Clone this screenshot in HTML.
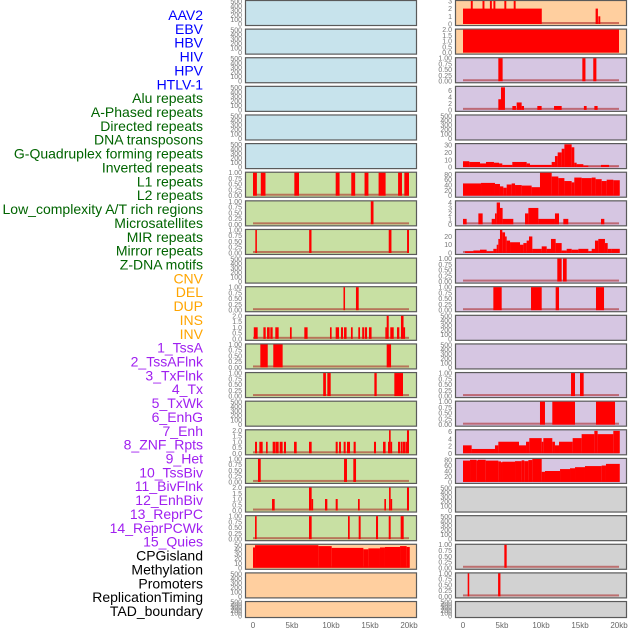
<!DOCTYPE html>
<html><head><meta charset="utf-8"><style>
html,body{margin:0;padding:0;background:#fff;width:630px;height:630px;overflow:hidden}
svg{display:block;font-family:"Liberation Sans",sans-serif}
</style></head><body>
<svg id="chart" width="630" height="630" viewBox="0 0 630 630"></svg>
<script>
// ---- data (kb positions, values) ----
const trackLabels = ["AAV2","EBV","HBV","HIV","HPV","HTLV-1","Alu repeats","A-Phased repeats","Directed repeats","DNA transposons","G-Quadruplex forming repeats","Inverted repeats","L1 repeats","L2 repeats","Low_complexity A/T rich regions","Microsatellites","MIR repeats","Mirror repeats","Z-DNA motifs","CNV","DEL","DUP","INS","INV","1_TssA","2_TssAFlnk","3_TxFlnk","4_Tx","5_TxWk","6_EnhG","7_Enh","8_ZNF_Rpts","9_Het","10_TssBiv","11_BivFlnk","12_EnhBiv","13_ReprPC","14_ReprPCWk","15_Quies","CPGisland","Methylation","Promoters","ReplicationTiming","TAD_boundary"];
const labelGroups = ["virus","virus","virus","virus","virus","virus","rep","rep","rep","rep","rep","rep","rep","rep","rep","rep","rep","rep","rep","sv","sv","sv","sv","sv","hmm","hmm","hmm","hmm","hmm","hmm","hmm","hmm","hmm","hmm","hmm","hmm","hmm","hmm","hmm","oth","oth","oth","oth","oth"];

const ticksEmpty = [0,100,200,300,400,500];
const ticksOne = [0,0.25,0.5,0.75,1];
const ticksTwo = [0,0.5,1,1.5,2];

const barsL7 = [[0,0.5,1],[1.0,1.6,1],[5.3,5.9,1],[10.6,11.1,1],[12.6,13.1,1],[14.3,14.8,1],[16.1,17.0,1],[18.6,19.1,1],[19.4,20.0,1]];
const barsL8 = [[15.1,15.45,1]];
const barsL9 = [[0.3,0.5,1],[7.2,7.5,1],[17.4,17.75,1],[19.75,20.0,1]];
const barsL11 = [[11.6,11.8,1],[13.2,13.55,1]];
const barsL12 = [[0.1,0.6,1],[1.33,1.63,1],[1.8,2.14,1],[2.22,2.52,1],[2.86,3.29,1],[4.74,4.96,1],[6.58,7.0,1],[9.87,10.08,1],[10.6,11.03,1],[11.28,11.54,1],[11.67,12.0,1],[12.56,12.78,1],[13.5,13.72,1],[14.0,14.27,1],[14.36,14.62,1],[14.87,15.2,1],[16.97,17.14,1],[17.14,17.4,2],[17.6,18.04,1],[18.46,18.76,1],[18.97,19.3,2],[19.3,19.5,1]];
const barsL13 = [[0.94,1.89,1],[2.6,3.8,1],[17.14,17.7,1]];
const barsL14 = [[9.0,9.35,1],[9.53,9.96,1],[15.56,15.86,1],[18.12,19.23,1]];
const barsL16 = [[0.26,0.51,1],[0.81,1.24,1],[1.67,1.88,1],[2.52,2.82,1],[2.86,3.29,1],[3.42,3.8,1],[3.97,4.23,1],[5.26,5.6,1],[7.18,7.52,1],[10.6,10.86,1],[11.03,11.28,1],[11.62,11.88,1],[12.05,12.44,1],[12.9,13.17,1],[15.51,15.77,1],[16.67,17.0,1],[17.31,17.44,1],[17.44,17.65,2],[17.65,17.82,1],[18.59,18.85,1],[18.93,19.15,1],[19.19,19.49,1],[19.53,19.74,1],[19.74,20.0,2]];
const barsL17 = [[0.64,0.99,1],[11.67,12.05,1],[12.86,13.21,1]];
const barsL18 = [[2.44,2.78,1],[7.18,7.52,2],[7.52,7.65,1],[9.23,9.53,1],[10.6,10.86,1],[13.46,13.68,1],[16.84,17.05,1],[17.44,17.65,2],[17.65,17.78,1],[19.74,20.0,2]];
const barsL19 = [[0.26,0.47,1],[7.18,7.52,1],[12.18,12.4,1],[13.55,13.8,1],[15.77,16.03,1],[17.4,17.65,1],[18.93,19.32,1]];
const barsCNV = [[0,0.26,45],[0.26,8.38,50],[8.38,10.09,48],[10.09,14.15,44],[14.15,14.79,41],[14.79,16.28,43],[16.28,16.92,45],[16.92,18.85,46],[18.85,19.7,48],[19.7,20.1,46]];

const barsINS = [[0,10.1,2],[1.0,1.25,3],[2.5,2.75,3],[3.45,3.7,3],[3.9,4.15,3],[5.3,5.55,3],[6.5,6.75,3],[17.0,17.3,2],[17.35,17.6,1]];
const barsINV = [[0,20,2]];
const barsTssA = [[4.53,5.08,1],[15.3,15.7,1],[16.7,17.1,1]];
const barsTssAFlnk = [[4.53,4.87,3.3],[4.87,5.38,7],[6.33,6.79,1.2],[6.88,7.52,2.3],[7.52,7.82,1.2],[9.53,10.08,1.2],[11.67,12.65,1.2],[15.5,15.85,1.2],[16.84,17.26,1.2]];
const barsTx = [[0,0.81,8],[0.81,2.18,7],[2.18,2.95,5],[2.95,3.97,7],[3.97,4.62,6],[4.62,5.04,5],[5.04,6.32,3],[6.32,8.16,7],[8.16,8.59,5],[8.59,9.87,3],[9.87,11.37,3],[11.37,11.79,7],[11.79,12.14,15],[12.14,12.65,20],[12.65,13.0,25],[13.0,13.93,31],[13.93,14.27,27],[14.27,14.57,6],[14.57,15.43,4],[15.43,16.07,2],[16.07,17.69,0.4],[17.69,18.72,3],[18.72,19.91,0.3]];
const barsTxWk = [[0,2.31,46],[2.31,4.1,48],[4.1,4.74,44],[4.74,5.17,35],[5.17,5.6,30],[5.6,6.24,42],[6.24,6.67,46],[6.67,7.52,40],[7.52,8.8,38],[8.8,9.87,32],[9.87,11.37,86],[11.37,12.22,72],[12.22,13.0,66],[13.0,13.93,55],[13.93,14.27,50],[14.27,15.21,68],[15.21,16.5,66],[16.5,17.0,68],[17.0,17.78,62],[17.78,18.42,55],[18.42,19.27,60],[19.27,20.1,58]];
const barsEnhG = [[0,0.47,1],[1.97,2.52,2],[3.68,4.1,1],[4.1,4.32,2],[4.32,4.74,4],[4.74,5.08,3],[5.08,6.45,1],[7.95,8.38,2],[8.38,9.66,3],[9.66,11.79,1],[11.79,12.31,2],[12.86,13.5,1],[17.69,18.12,1]];
const barsEnh = [[0.26,1.33,2],[1.33,2.18,3],[2.18,3.03,4],[3.03,3.89,2],[3.89,4.32,5],[4.32,4.53,10],[4.53,4.74,17],[4.74,5.04,28],[5.04,5.39,25],[5.39,5.6,20],[5.6,6.03,15],[6.03,7.31,13],[7.31,7.74,10],[7.74,8.16,12],[8.16,8.46,15],[8.46,8.89,20],[8.89,10.09,5],[10.09,10.73,8],[10.73,11.28,5],[11.28,11.88,17],[11.88,12.65,12],[12.65,13.29,3],[13.29,13.93,5],[13.93,14.79,4],[14.79,16.07,5],[16.07,16.5,2],[16.5,16.92,5],[16.92,17.35,15],[17.35,18.2,17],[18.2,18.55,12],[18.55,19.06,5],[19.06,20.1,5]];
const barsZNF = [[12.09,12.65,1],[12.82,13.29,1]];
const barsHet = [[3.89,4.96,1],[8.72,10.09,1],[11.88,12.31,1],[17.05,18.08,1]];
const barsEnhBiv = [[13.85,14.36,1],[15.0,15.47,1]];
const barsReprPC = [[9.87,10.51,1],[11.45,14.36,1],[17.05,19.49,1]];
const barsReprPCWk = [[0,1.11,2.2],[1.11,4.1,1.2],[4.1,4.53,2.2],[4.53,7.18,3.2],[7.18,8.08,2.2],[8.08,8.5,3.2],[8.5,10.09,4.2],[10.09,10.3,3.2],[10.3,11.45,4.2],[11.45,11.79,3.2],[11.79,12.31,2.2],[12.31,14.06,3.2],[14.06,15.21,4.2],[15.21,16.84,5.3],[16.84,17.26,6.2],[17.26,19.27,5.3],[19.27,20.1,6.2]];
const barsQuies = [[0,0.9,78],[0.9,1.75,81],[1.75,1.88,78],[1.88,2.91,81],[2.91,4.53,78],[4.53,4.87,75],[4.87,5.04,72],[5.04,6.67,74],[6.67,7.52,76],[7.52,7.86,79],[7.86,8.38,76],[8.38,8.89,80],[8.89,10.09,84],[10.09,10.51,37],[10.51,12.44,40],[12.44,13.72,47],[13.72,14.36,50],[14.36,15.64,54],[15.64,17.78,58],[17.78,18.33,60],[18.33,20.1,66]];
const barsMeth = [[5.3,5.6,1]];
const barsRepl = [[0.6,0.8,1],[4.5,4.8,1]];

// column, row, background group, ymax, ticks, bars
const tracks = [
 ["L",0,"blue",520,ticksEmpty,null],["L",1,"blue",520,ticksEmpty,null],["L",2,"blue",520,ticksEmpty,null],
 ["L",3,"blue",520,ticksEmpty,null],["L",4,"blue",520,ticksEmpty,null],["L",5,"blue",520,ticksEmpty,null],
 ["L",6,"green",1.02,ticksOne,barsL7],["L",7,"green",1.02,ticksOne,barsL8],["L",8,"green",1.02,ticksOne,barsL9],
 ["L",9,"green",520,ticksEmpty,null],["L",10,"green",1.02,ticksOne,barsL11],["L",11,"green",2.04,ticksTwo,barsL12],
 ["L",12,"green",1.02,ticksOne,barsL13],["L",13,"green",1.02,ticksOne,barsL14],["L",14,"green",520,ticksEmpty,null],
 ["L",15,"green",2.04,ticksTwo,barsL16],["L",16,"green",1.02,ticksOne,barsL17],["L",17,"green",2.04,ticksTwo,barsL18],
 ["L",18,"green",1.02,ticksOne,barsL19],["L",19,"orange",52,[0,10,20,30,40,50],barsCNV],
 ["L",20,"orange",520,ticksEmpty,null],["L",21,"orange",520,ticksEmpty,null],
 ["R",0,"orange",3.05,[0,1,2,3],barsINS],["R",1,"orange",2.04,ticksTwo,barsINV],
 ["R",2,"purple",1.02,ticksOne,barsTssA],["R",3,"purple",7.3,[0,2,4,6],barsTssAFlnk],
 ["R",4,"purple",520,ticksEmpty,null],["R",5,"purple",32,[0,10,20,30],barsTx],
 ["R",6,"purple",88,[0,20,40,60,80],barsTxWk],["R",7,"purple",4.3,[0,1,2,3,4],barsEnhG],
 ["R",8,"purple",28.5,[0,10,20],barsEnh],["R",9,"purple",1.02,ticksOne,barsZNF],
 ["R",10,"purple",1.02,ticksOne,barsHet],["R",11,"purple",520,ticksEmpty,null],
 ["R",12,"purple",520,ticksEmpty,null],["R",13,"purple",1.02,ticksOne,barsEnhBiv],
 ["R",14,"purple",1.02,ticksOne,barsReprPC],["R",15,"purple",6.5,[0,2,4,6],barsReprPCWk],
 ["R",16,"purple",86,[0,20,40,60,80],barsQuies],["R",17,"grey",520,ticksEmpty,null],
 ["R",18,"grey",520,ticksEmpty,null],["R",19,"grey",1.02,ticksOne,barsMeth],
 ["R",20,"grey",1.02,ticksOne,barsRepl],["R",21,"grey",520,ticksEmpty,null]
];
const xTickValues = [0,5,10,15,20];
const xTickLabels = ["0","5kb","10kb","15kb","20kb"];

// ---- rendering ----
const NS = "http://www.w3.org/2000/svg";
const svg = document.getElementById("chart");
const bgColors = {blue:"#c7e3ec",green:"#c8e0a3",orange:"#ffcf9f",purple:"#d6c6e2",grey:"#d2d2d2"};
const labelColors = {virus:"#0000ff",rep:"#006400",sv:"#ffa500",hmm:"#a020f0",oth:"#000000"};
function mk(tag, attrs, parent){
  const e = document.createElementNS(NS, tag);
  for (const k in attrs) e.setAttribute(k, attrs[k]);
  (parent||svg).appendChild(e);
  return e;
}
function colLeft(c){ return c==="L" ? 245 : 455; }
function xScale(c, kb){ return colLeft(c) + 8 + kb*7.8; }
function rowTop(r){ return r*28.62; }
function rowH(r){ return r===21 ? 16 : 25; }

trackLabels.forEach((t,i)=>{
  const el = mk("text",{x:203,y:20+i*13.86,"text-anchor":"end","font-size":"14",fill:labelColors[labelGroups[i]]});
  el.textContent = t;
  
  
});

tracks.forEach(tr=>{
  const [c,r,bg,ymax,ticks,bars] = tr;
  const x0 = colLeft(c), top = rowTop(r), h = rowH(r), w = 171;
  const bottom = top + h;
  const yScale = v => bottom - 1 - (v/ymax)*(h-1.5);
  const g = mk("g",{});
  
  
  const rect = mk("rect",{x:x0+0.5,y:top+0.5,width:w,height:h,fill:bgColors[bg],stroke:"#5a5a5a","stroke-width":"1.2"},g);
  
  
  ticks.forEach(tv=>{
    const ty = yScale(tv);
    const lbl = mk("text",{x:x0-3,y:ty+2.5,"text-anchor":"end","font-size":"7",fill:"#777"},g);
    lbl.textContent = (ticks===ticksOne) ? tv.toFixed(2) : (ticks===ticksTwo ? tv.toFixed(1) : String(tv));
    
    
  });
  if (bars){
    const base = mk("rect",{x:xScale(c,0),y:bottom-3,width:xScale(c,20)-xScale(c,0),height:2,fill:"rgba(170,30,30,0.55)"},g);
    
    
    bars.forEach(b=>{
      const xa = xScale(c,b[0]), xb = xScale(c,b[1]);
      const yv = Math.max(top+1, yScale(b[2]));
      const bar = mk("rect",{x:xa,y:yv,width:Math.max(1.5,xb-xa),height:bottom-1-yv,fill:"#ff0000"},g);
      
      
    });
  }
});

["L","R"].forEach(c=>{
  xTickValues.forEach((v,i)=>{
    const t = mk("text",{x:xScale(c,v),y:628,"text-anchor":"middle","font-size":"8",fill:"#666"});
    t.textContent = xTickLabels[i];
    
    
  });
});
</script>
</body></html>
